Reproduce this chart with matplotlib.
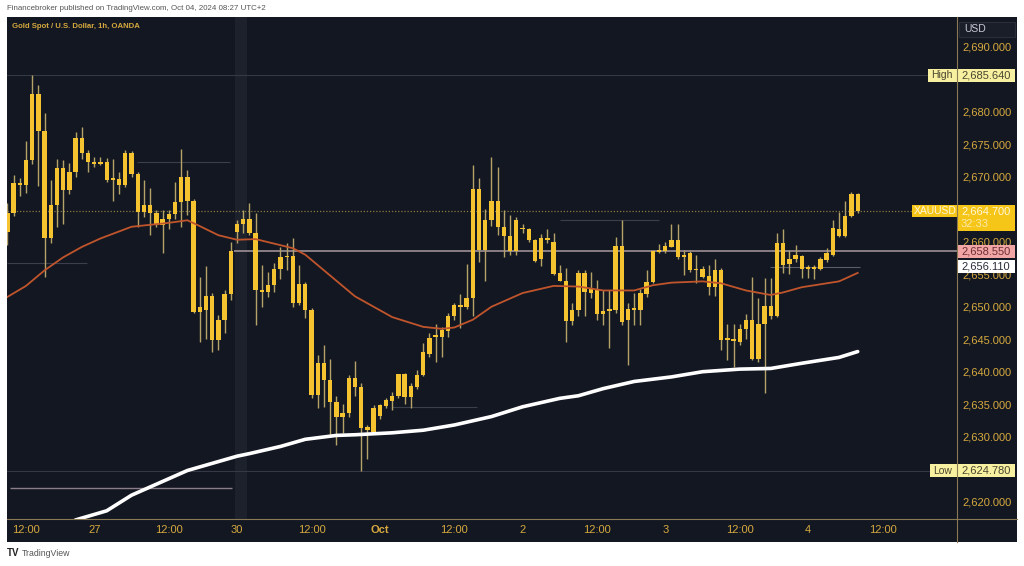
import matplotlib
matplotlib.use('Agg')
import matplotlib.pyplot as plt
import matplotlib.patches as mpatches
import matplotlib.transforms as mtransforms
from matplotlib.lines import Line2D
import numpy as np

plt.rcParams['font.family'] = ['Liberation Sans', 'DejaVu Sans']

# hourly XAUUSD candles, Sep 26 09:00 -> Oct 4 08:00
opens = [2661.5, 2664.4, 2669.0, 2668.7, 2672.6, 2682.8, 2677.0, 2660.5, 2665.6, 2671.3,
         2667.9, 2670.8, 2675.9, 2673.6, 2672.2, 2672.0, 2672.3, 2669.5, 2669.6, 2668.7,
         2673.7, 2670.4, 2664.6, 2665.6, 2664.4, 2662.6, 2663.5, 2664.3, 2666.1, 2670.0,
         2666.2, 2649.2, 2649.5, 2651.7, 2644.9, 2647.9, 2651.9, 2661.5, 2662.7, 2663.5,
         2661.3, 2652.6, 2652.3, 2653.3, 2655.8, 2657.6, 2657.8, 2650.5, 2653.5, 2649.5,
         2636.4, 2641.4, 2638.8, 2635.4, 2633.0, 2633.7, 2639.0, 2637.6, 2631.0, 2630.8,
         2633.2, 2634.7, 2635.5, 2636.2, 2639.6, 2636.1, 2637.7, 2639.5, 2642.8, 2645.4,
         2645.4, 2646.2, 2648.5, 2650.2, 2650.0, 2651.3, 2668.1, 2658.8, 2663.3, 2666.3,
         2662.2, 2660.9, 2658.5, 2662.1, 2661.9, 2660.2, 2657.3, 2660.5, 2660.0, 2655.2,
         2654.0, 2647.8, 2649.5, 2655.2, 2652.8, 2652.8, 2648.9, 2649.4, 2649.5, 2659.3,
         2648.0, 2649.7, 2649.5, 2651.9, 2653.8, 2658.5, 2658.5, 2659.2, 2660.2, 2657.6,
         2658.3, 2655.6, 2655.8, 2654.7, 2653.0, 2655.7, 2644.9, 2645.1, 2644.6, 2646.6,
         2647.9, 2642.0, 2647.3, 2650.1, 2648.6, 2659.8, 2657.4, 2657.3, 2657.8, 2655.8,
         2655.8, 2655.8, 2657.2, 2658.0, 2661.9, 2660.9, 2663.9, 2667.3]
highs = [2666.0, 2670.3, 2669.8, 2675.5, 2685.6, 2684.1, 2679.8, 2669.5, 2672.8, 2672.6,
         2672.1, 2676.9, 2677.7, 2674.1, 2673.0, 2673.0, 2672.9, 2672.7, 2670.8, 2674.1,
         2674.0, 2670.8, 2669.5, 2668.2, 2664.9, 2664.9, 2664.9, 2669.2, 2674.3, 2671.0,
         2666.6, 2654.6, 2656.2, 2652.1, 2648.7, 2652.6, 2660.0, 2663.3, 2664.9, 2665.9,
         2664.4, 2656.4, 2655.4, 2656.7, 2659.2, 2659.8, 2660.5, 2656.4, 2653.8, 2649.8,
         2642.6, 2644.1, 2641.9, 2636.2, 2635.1, 2639.5, 2641.7, 2638.3, 2631.8, 2634.9,
         2635.1, 2636.0, 2636.9, 2639.7, 2639.8, 2638.2, 2640.3, 2644.4, 2646.0, 2647.4,
         2646.9, 2649.0, 2650.5, 2651.9, 2656.6, 2671.8, 2669.8, 2665.1, 2673.1, 2671.5,
         2664.9, 2664.1, 2663.8, 2662.7, 2662.1, 2660.4, 2661.2, 2661.9, 2661.3, 2656.4,
         2655.9, 2650.5, 2655.6, 2655.6, 2655.4, 2654.1, 2652.6, 2652.6, 2660.8, 2663.3,
         2650.5, 2652.1, 2652.8, 2655.6, 2658.7, 2659.7, 2660.0, 2662.8, 2662.8, 2658.7,
         2658.5, 2657.9, 2656.2, 2656.4, 2657.3, 2655.9, 2647.4, 2647.4, 2647.4, 2648.9,
         2654.5, 2651.3, 2654.4, 2654.4, 2661.3, 2661.9, 2658.7, 2659.5, 2657.9, 2656.4,
         2656.4, 2657.6, 2659.0, 2663.3, 2664.6, 2666.2, 2667.7, 2667.5]
lows = [2659.5, 2664.0, 2667.0, 2667.5, 2672.0, 2668.5, 2654.6, 2659.8, 2662.3, 2662.8,
        2667.4, 2670.0, 2672.8, 2670.8, 2671.5, 2671.8, 2669.2, 2666.2, 2667.4, 2668.4,
        2670.0, 2662.3, 2663.8, 2661.0, 2662.3, 2658.3, 2662.0, 2663.5, 2662.3, 2664.1,
        2649.0, 2644.6, 2645.1, 2643.1, 2643.3, 2645.9, 2651.0, 2659.8, 2661.3, 2661.0,
        2647.2, 2650.0, 2651.5, 2652.2, 2654.2, 2655.6, 2650.0, 2650.3, 2648.2, 2635.9,
        2634.4, 2634.6, 2630.3, 2628.7, 2630.5, 2633.1, 2636.2, 2624.8, 2626.5, 2630.5,
        2632.8, 2634.4, 2634.1, 2635.9, 2635.1, 2634.4, 2637.4, 2639.3, 2642.3, 2641.5,
        2642.3, 2645.4, 2648.0, 2646.8, 2649.6, 2648.5, 2656.9, 2653.9, 2662.4, 2661.0,
        2657.6, 2658.0, 2658.0, 2661.4, 2660.0, 2656.9, 2656.2, 2659.8, 2654.9, 2653.9,
        2644.5, 2647.2, 2648.5, 2648.5, 2651.3, 2647.9, 2647.2, 2643.6, 2649.0, 2647.2,
        2641.0, 2647.2, 2647.2, 2651.5, 2653.6, 2658.2, 2658.2, 2659.2, 2657.4, 2654.9,
        2655.4, 2653.6, 2654.4, 2651.8, 2651.6, 2643.3, 2641.8, 2640.8, 2644.1, 2645.1,
        2641.8, 2641.5, 2636.7, 2648.1, 2648.4, 2655.2, 2655.1, 2656.9, 2654.4, 2654.4,
        2654.2, 2655.6, 2656.9, 2657.8, 2660.8, 2660.8, 2663.8, 2664.4]
closes = [2664.4, 2669.0, 2668.7, 2672.6, 2682.8, 2677.0, 2660.5, 2665.6, 2671.3, 2667.9,
          2670.8, 2675.9, 2673.6, 2672.2, 2672.0, 2672.3, 2669.5, 2669.7, 2668.7, 2673.7,
          2670.4, 2664.6, 2665.6, 2664.4, 2662.6, 2663.5, 2664.3, 2666.1, 2670.0, 2666.2,
          2649.2, 2649.9, 2651.7, 2644.9, 2647.9, 2651.9, 2658.5, 2662.7, 2663.5, 2661.3,
          2652.6, 2652.3, 2653.3, 2655.8, 2657.6, 2657.8, 2650.5, 2653.5, 2649.5, 2636.4,
          2641.4, 2638.8, 2635.4, 2633.0, 2633.7, 2639.0, 2637.6, 2631.3, 2631.5, 2634.4,
          2634.9, 2635.6, 2636.3, 2639.6, 2636.1, 2637.8, 2639.5, 2643.0, 2645.2, 2645.6,
          2646.4, 2648.5, 2650.2, 2650.0, 2651.3, 2668.1, 2658.8, 2663.3, 2666.3, 2662.2,
          2660.9, 2658.5, 2663.4, 2661.9, 2660.2, 2657.1, 2660.5, 2660.2, 2655.1, 2654.0,
          2647.8, 2649.5, 2655.2, 2652.3, 2652.1, 2648.9, 2649.4, 2649.6, 2659.3, 2647.7,
          2649.7, 2649.5, 2652.1, 2653.8, 2658.5, 2658.4, 2659.3, 2660.2, 2657.6, 2657.9,
          2655.6, 2655.8, 2654.6, 2653.0, 2655.7, 2644.9, 2645.1, 2644.8, 2646.6, 2647.9,
          2642.0, 2647.3, 2650.1, 2648.5, 2659.8, 2656.4, 2656.6, 2657.9, 2655.8, 2656.0,
          2656.0, 2657.3, 2658.2, 2662.1, 2660.9, 2663.9, 2667.3, 2664.7]

tick_pos = [3, 14, 26, 37, 49, 60, 72, 83, 95, 106, 118, 129, 141]
tick_labels = ['12:00', '27', '12:00', '30', '12:00', 'Oct', '12:00', '2', '12:00', '3',
               '12:00', '4', '12:00']
price_ticks = [2620, 2625, 2630, 2635, 2640, 2645, 2650, 2655, 2660, 2665, 2670, 2675,
               2680, 2685, 2690]
hidden_ticks = [2625, 2665, 2685]  # covered by the High / Low / last price tags

# moving averages
ma_fast_x = [0, 3, 6, 9, 12, 15, 20, 26, 29, 31, 34, 37, 40, 43, 46, 48, 51, 56, 62, 67,
             70, 72, 75, 78, 83, 88, 92, 96, 101, 104, 107, 112, 115, 119, 123, 125, 128,
             134, 137]
ma_fast_y = [2651.5, 2653.2, 2655.6, 2657.6, 2659.2, 2660.5, 2662.3, 2662.9, 2663.3, 2662.4,
             2661.0, 2660.3, 2660.4, 2659.7, 2659.0, 2658.0, 2655.6, 2651.6, 2648.4, 2646.9,
             2646.6, 2646.8, 2648.0, 2650.0, 2652.1, 2653.2, 2653.1, 2652.5, 2652.5, 2653.3,
             2653.7, 2653.9, 2653.6, 2652.5, 2651.8, 2652.2, 2653.0, 2653.9, 2655.2]
ma_slow_x = [9, 11, 16, 20, 29, 37, 39, 44, 48, 53, 56, 62, 67, 72, 78, 83, 89, 92, 96, 101,
             107, 112, 118, 123, 128, 134, 137]
ma_slow_y = [2616.0, 2617.2, 2618.6, 2621.0, 2624.8, 2627.0, 2627.4, 2628.5, 2629.6, 2630.2,
             2630.3, 2630.6, 2631.0, 2631.8, 2633.1, 2634.6, 2635.9, 2636.3, 2637.4, 2638.5,
             2639.2, 2640.0, 2640.4, 2640.5, 2641.3, 2642.2, 2643.1]

high_price = 2685.64
low_price = 2624.78
last_price = 2664.70
red_level = 2658.55
white_level = 2656.11

# drawn horizontal segments: (start bar, end bar, price)
seg_gray = [(0, 12.8, 2656.8), (20.9, 35.9, 2672.3), (62, 75.7, 2634.5), (89, 105, 2663.4)]
seg_pink = [(0.4, 36.2, 2622.1)]

W, H = 1024, 566
bg = '#131722'
gold = '#F5C330'
wick_c = '#B4A268'
txt_c = '#D6A93E'
sep_c = '#8a7a52'

fig = plt.figure(figsize=(W / 100, H / 100), dpi=100)
fig.patch.set_facecolor('white')
fig.patches.append(mpatches.Rectangle((7 / W, 1 - 542 / H), 1010 / W, 525 / H,
                                      transform=fig.transFigure, facecolor=bg,
                                      edgecolor='none', zorder=-1))

ax = fig.add_axes([7 / W, 1 - 519 / H, 950 / W, 502 / H])
ax.set_facecolor(bg)
for s in ax.spines.values():
    s.set_visible(False)

ax.axvspan(36.7, 38.6, color='#1d212c', zorder=0.5, lw=0)

# level lines
ax.axhline(high_price, color='#353946', lw=0.8, zorder=1)
ax.axhline(low_price, color='#353946', lw=0.8, zorder=1)
ax.axhline(last_price, color='#8a7940', lw=0.9, ls=(0, (1, 1.5)), zorder=1)
ax.hlines(red_level, 36.5, 160, color='#9d9095', lw=1.2, zorder=1)
ax.hlines(white_level, 122.9, 137.4, color='#5b5e68', lw=0.8, zorder=1)
for x0, x1, p in seg_gray:
    ax.hlines(p, x0, x1, color='#3b3f4b', lw=0.8, zorder=1)
for x0, x1, p in seg_pink:
    ax.hlines(p, x0, x1, color='#8a7e88', lw=1.0, zorder=1)

# candles
x = np.arange(len(opens))
o = np.array(opens)
c = np.array(closes)
body_lo = np.minimum(o, c)
body_h = np.maximum(np.abs(c - o), 0.25)
ax.vlines(x, lows, highs, color=wick_c, lw=1.0, zorder=3)
ax.bar(x, body_h, bottom=body_lo, width=0.7, color=gold, lw=0, zorder=4)

ax.plot(ma_fast_x, ma_fast_y, color='#C0552C', lw=1.3, zorder=5)
ax.plot(ma_slow_x, ma_slow_y, color='white', lw=2.6, zorder=5, solid_capstyle='round')

ax.set_xlim(-0.06, 153.0)
ax.set_ylim(2617.34, 2694.57)

ax.set_xticks(tick_pos)
ax.set_xticklabels(tick_labels)
for lab in ax.get_xticklabels():
    if lab.get_text() == 'Oct':
        lab.set_fontweight('bold')
ax.tick_params(axis='x', length=0, pad=4.2, labelsize=8, labelcolor=txt_c)
ax.yaxis.tick_right()
ax.set_yticks(price_ticks)
ax.set_yticklabels(['' if p in hidden_ticks else f'{p:,.3f}' for p in price_ticks])
ax.tick_params(axis='y', length=0, pad=3.6, labelsize=8, labelcolor=txt_c)

# separators of the price / time scales
fig.add_artist(Line2D([7 / W, 1017 / W], [1 - 519 / H] * 2, transform=fig.transFigure,
                      color=sep_c, lw=0.8))
fig.add_artist(Line2D([957 / W] * 2, [1 - 17 / H, 1 - 542 / H], transform=fig.transFigure,
                      color=sep_c, lw=0.8))

# price tags on the right scale
tr = mtransforms.blended_transform_factory(ax.transAxes, ax.transData)


def ax_x(px):
    return (px - 7) / 950


def tag(p_top, p_bot, px0, px1, fc):
    ax.add_patch(mpatches.Rectangle((ax_x(px0), p_bot), ax_x(px1) - ax_x(px0), p_top - p_bot,
                                    transform=tr, facecolor=fc, edgecolor='none',
                                    clip_on=False, zorder=10))


def tag_text(px, p, s, col, size=8):
    ax.text(ax_x(px), p, s, transform=tr, ha='left', va='center', fontsize=size, color=col,
            clip_on=False, zorder=11)


tag(high_price + 1.0, high_price - 1.0, 928, 1015, '#F6F0A0')
tag_text(931, high_price, 'High', '#4a4530', 7.5)
tag_text(961, high_price, f'{high_price:,.3f}', '#4a4530')

tag(last_price + 0.95, last_price - 0.95, 912, 1015, '#F5C518')
tag(last_price - 0.95, last_price - 3.1, 957, 1015, '#F5C518')
tag_text(914, last_price, 'XAUUSD', '#FFF7DC', 7.5)
tag_text(961, last_price, f'{last_price:,.3f}', '#FFF7DC')
tag_text(961, last_price - 2.05, '32:33', '#FBE9A8')

tag(red_level + 1.0, red_level - 1.0, 957, 1015, '#F2A5A5')
tag_text(961, red_level, f'{red_level:,.3f}', '#6a2f35')
tag(white_level + 1.0, white_level - 1.0, 957, 1015, '#FFFFFF')
tag_text(961, white_level, f'{white_level:,.3f}', '#2a2e39')

tag(low_price + 1.0, low_price - 1.0, 930, 1015, '#F6F0A0')
tag_text(933, low_price, 'Low', '#4a4530', 7.5)
tag_text(961, low_price, f'{low_price:,.3f}', '#4a4530')

# USD header box
fig.patches.append(mpatches.Rectangle((959 / W, 1 - 37 / H), 56 / W, 15 / H,
                                      transform=fig.transFigure, facecolor='#1a1e29',
                                      edgecolor='#2a2e39', lw=0.8, zorder=2))
fig.text(964 / W, 1 - 29.5 / H, 'USD', fontsize=7.5, color='#c9ccd4', va='center', ha='left',
         zorder=3)

fig.text(7 / W, 1 - 8 / H, 'Financebroker published on TradingView.com, Oct 04, 2024 08:27 UTC+2',
         fontsize=5.7, color='#555555', va='center', ha='left')
fig.text(12 / W, 1 - 27 / H, 'Gold Spot / U.S. Dollar, 1h, OANDA', fontsize=5.6,
         color='#D6A93E', va='center', ha='left', fontweight='bold')
fig.text(7 / W, 1 - 553 / H, 'TV', fontsize=7, color='#222222', va='center', ha='left',
         fontweight='bold')
fig.text(22 / W, 1 - 553 / H, 'TradingView', fontsize=6.3, color='#555555', va='center',
         ha='left')

fig.savefig('out.png', dpi=100, facecolor='white')
